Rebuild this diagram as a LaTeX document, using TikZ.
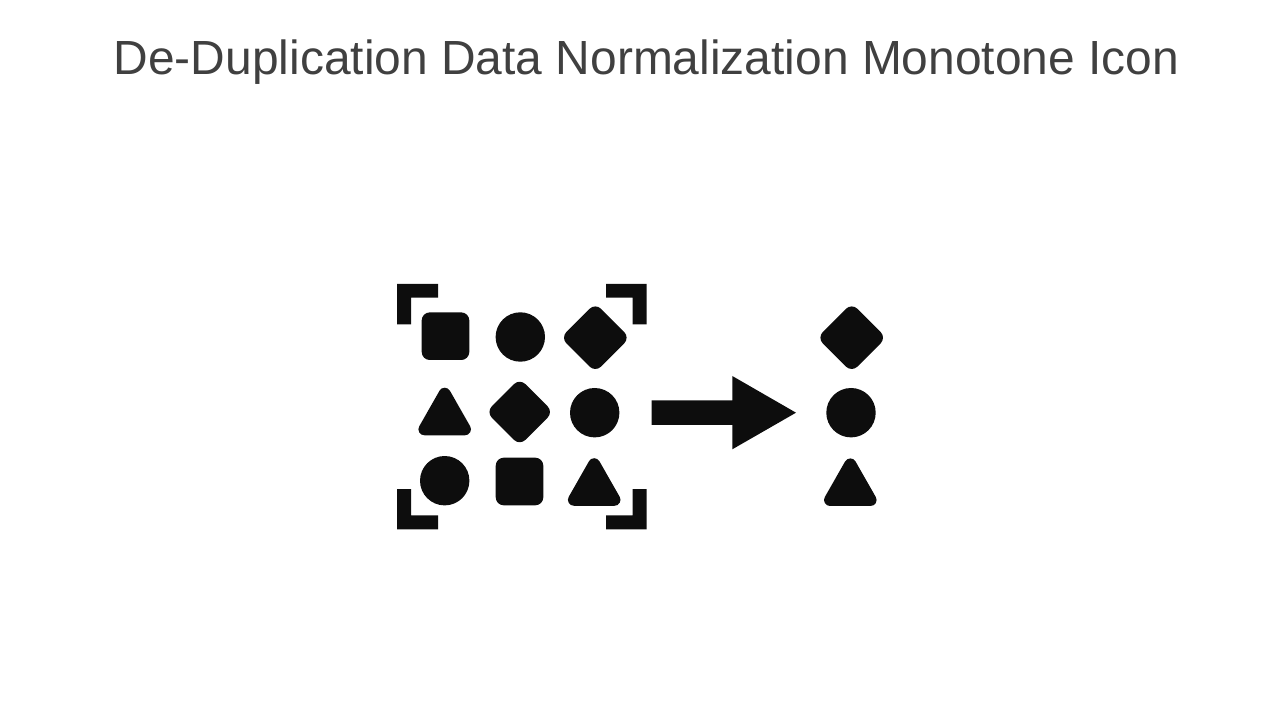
\documentclass[tikz,border=0pt]{standalone}
\usepackage{fontspec}
\setmainfont{Liberation Sans}
\definecolor{titlegray}{HTML}{404040}
\definecolor{icondark}{HTML}{0D0D0D}
\begin{document}
\begin{tikzpicture}[
        x=0.025cm, y=-0.025cm,
        header/.style = {text = titlegray, font = \fontsize{34.08}{38}\selectfont, anchor = base},
        iconfill/.style = {fill = icondark, draw = none},
        squareicon/.pic = {\fill[icondark, rounded corners=5.7pt] (-23.8,-23.8) rectangle (23.8,23.8);},
        circleicon/.pic = {\fill[icondark] (0,0) circle (24.7);},
        diamondicon/.pic = {\fill[icondark, rounded corners=5.7pt] (0,-34.6) -- (34.6,0) -- (0,34.6) -- (-34.6,0) -- cycle;},
        triangleicon/.pic = {\filldraw[icondark, line width=8.5pt, line join=round] (0,-17.8) -- (20.3,17.8) -- (-20.3,17.8) -- cycle;},
        ]
        \useasboundingbox (0,0) rectangle (1280,720);
        \node[header] (title) at (646.5,75) {De-Duplication Data Normalization Monotone Icon};
        % left group
        \pic at (445.5,336.2) {squareicon};
        \pic at (520.3,337) {circleicon};
        \pic at (595.3,337.7) {diamondicon};
        \pic at (444.7,411.5) {triangleicon};
        \pic[scale=0.97] at (519.7,412) {diamondicon};
        \pic at (594.7,412.7) {circleicon};
        \pic at (444.7,480.7) {circleicon};
        \pic at (519.5,481.5) {squareicon};
        \pic at (594.2,482) {triangleicon};
        % corner brackets
        \path[iconfill] (397,324.3) -- (397,284) -- (438,284) -- (438,297.7) -- (411,297.7) -- (411,324.3) -- cycle;
        \path[iconfill] (606,284) -- (646.7,284) -- (646.7,324.3) -- (632.7,324.3) -- (632.7,297.7) -- (606,297.7) -- cycle;
        \path[iconfill] (397,489) -- (411,489) -- (411,515.3) -- (438,515.3) -- (438,529.3) -- (397,529.3) -- cycle;
        \path[iconfill] (632.7,489) -- (646.7,489) -- (646.7,529.3) -- (606,529.3) -- (606,515.3) -- (632.7,515.3) -- cycle;
        % arrow
        \path[iconfill] (651.7,400.3) -- (732.3,400.3) -- (732.3,376) -- (796,412.7) -- (732.3,449.3) -- (732.3,425) -- (651.7,425) -- cycle;
        % right group
        \pic at (851.7,337.7) {diamondicon};
        \pic at (851,412.7) {circleicon};
        \pic at (850.3,482.2) {triangleicon};
    \end{tikzpicture}
\end{document}
